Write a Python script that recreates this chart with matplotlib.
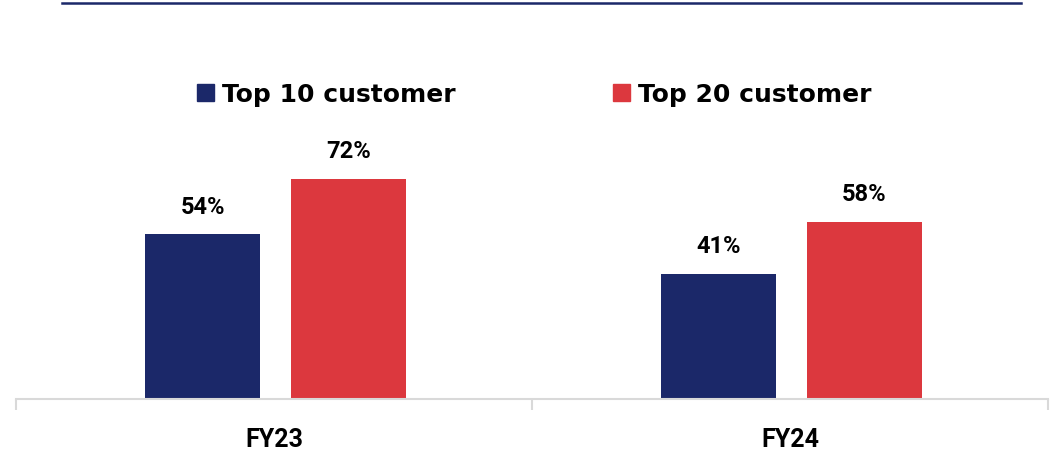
import matplotlib.pyplot as plt
from matplotlib.lines import Line2D
from matplotlib.patches import Patch
import numpy as np

years = ['FY23', 'FY24']
top10 = [54, 41]
top20 = [72, 58]
series_names = ['Top 10 customer', 'Top 20 customer']

BLUE = '#1b2869'
RED = '#dc383e'
GREY = '#d9d9d9'
NUMFONT = 'Roboto'

fig = plt.figure(figsize=(10.53, 4.52), dpi=100)
ax = fig.add_axes([16 / 1053, 52 / 452, 1032 / 1053, 340 / 452])

x = np.arange(len(years))
w = 0.222
off = 0.1415
b1 = ax.bar(x - off + 0.003, top10, w, color=BLUE, label=series_names[0])
b2 = ax.bar(x + off + 0.003, top20, w, color=RED, label=series_names[1])

for bars, vals in ((b1, top10), (b2, top20)):
    for r, v in zip(bars, vals):
        ax.text(r.get_x() + r.get_width() / 2, v + 5.3, f'{v}%', ha='center', va='bottom',
                fontsize=17, fontweight='bold', family=NUMFONT)

ax.set_xlim(-0.5, 1.5)
ax.set_ylim(0, 340 / 3.06)
for s in ['top', 'right', 'left']:
    ax.spines[s].set_visible(False)
ax.spines['bottom'].set_color(GREY)
ax.spines['bottom'].set_linewidth(1.5)
ax.set_yticks([])
ax.set_xticks([-0.5, 0.5, 1.5])
ax.set_xticklabels([])
ax.tick_params(axis='x', which='major', length=8, width=1.5, color=GREY)
ax.set_xticks(x, minor=True)
ax.set_xticklabels(years, minor=True, fontsize=18, fontweight='bold', family=NUMFONT)
ax.tick_params(axis='x', which='minor', length=0, pad=20)

handles = [Patch(color=BLUE), Patch(color=RED)]
fig.legend(handles, series_names, loc='center', bbox_to_anchor=(534 / 1053, 1 - 95 / 452),
           ncol=2, frameon=False, handlelength=0.7, handleheight=0.7, handletextpad=0.3,
           columnspacing=6.3, prop={'weight': 'bold', 'size': 18, 'family': 'DejaVu Sans'})

fig.add_artist(Line2D([62 / 1053, 1021 / 1053], [1 - 3.5 / 452, 1 - 3.5 / 452],
                      color=BLUE, lw=1.8, transform=fig.transFigure))

fig.savefig('out.png', dpi=100)
